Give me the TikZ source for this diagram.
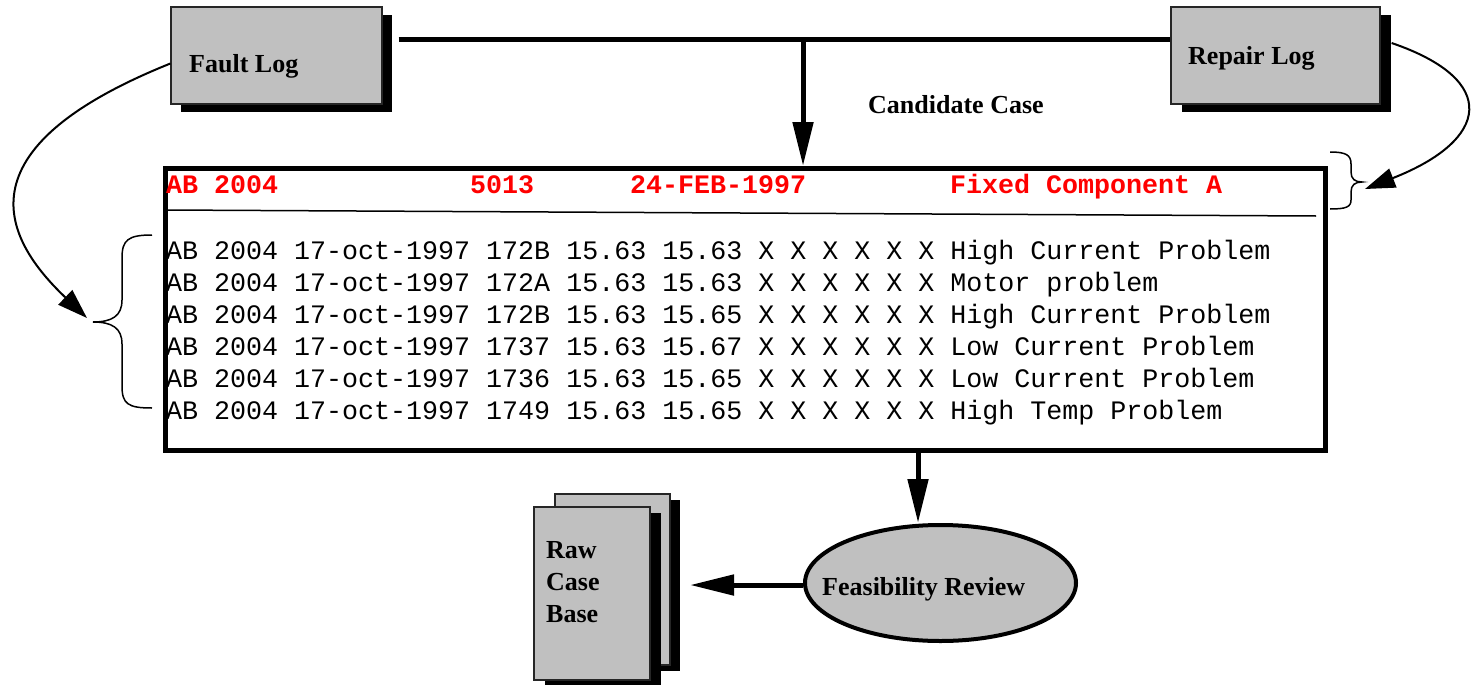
\documentclass[tikz,border=0pt]{standalone}
\usepackage{fontspec}
\setmainfont{Liberation Serif}
\setmonofont{Liberation Mono}
\usetikzlibrary{arrows.meta,shadows,shapes.geometric}
\definecolor{boxgray}{HTML}{C0C0C0}
\begin{document}
\begin{tikzpicture}[x=1pt,y=-1pt,
  lbl/.style={font=\fontsize{26}{32}\selectfont\bfseries, anchor=base west, inner sep=0pt, align=left},
  mono/.style={font=\fontsize{26.67}{32}\selectfont\ttfamily, anchor=base west, inner sep=0pt},
  monohead/.style={mono, font=\fontsize{26.67}{32}\selectfont\ttfamily\bfseries, text=red},
  graybox/.style={draw=black!85, line width=1.2pt, fill=boxgray, inner sep=0pt},
  thickline/.style={line width=5pt},
  thickarrow/.style={line width=5pt, -{Triangle[length=44pt,width=20pt]}},
  curvearrow/.style={line width=2pt, -{Triangle[length=30pt,width=20pt]}},
  bracepath/.style={line width=1.5pt}
]
\useasboundingbox (0,0) rectangle (1472,685);

% log boxes
\node[graybox, minimum width=211pt, minimum height=97pt,
  drop shadow={shadow xshift=10pt, shadow yshift=-8pt, fill=black, opacity=1}] (fault) at (276.5,55.5) {};
\node[lbl] (faulttxt) at (189,73) {Fault Log};
\node[graybox, minimum width=209pt, minimum height=97pt,
  drop shadow={shadow xshift=11pt, shadow yshift=-8pt, fill=black, opacity=1}] (repair) at (1275.5,55.5) {};
\node[lbl] (repairtxt) at (1188,65) {Repair Log};

% main case box
\node[draw, line width=5pt, minimum width=1160pt, minimum height=282pt, inner sep=0pt] (case) at (745.5,309.5) {};
\draw[line width=1.5pt] (165,210) -- (1316,216);

% header
\node[monohead] (h1) at (166,193) {AB 2004};
\node[monohead] (h2) at (470,193) {5013};
\node[monohead] (h3) at (630,193) {24-FEB-1997};
\node[monohead] (h4) at (950,193) {Fixed Component A};

% rows
\node[mono] (r1) at (166,259) {AB 2004 17-oct-1997 172B 15.63 15.63 X X X X X X High Current Problem};
\node[mono] (r2) at (166,291) {AB 2004 17-oct-1997 172A 15.63 15.63 X X X X X X Motor problem};
\node[mono] (r3) at (166,323) {AB 2004 17-oct-1997 172B 15.63 15.65 X X X X X X High Current Problem};
\node[mono] (r4) at (166,355) {AB 2004 17-oct-1997 1737 15.63 15.67 X X X X X X Low Current Problem};
\node[mono] (r5) at (166,387) {AB 2004 17-oct-1997 1736 15.63 15.65 X X X X X X Low Current Problem};
\node[mono] (r6) at (166,419) {AB 2004 17-oct-1997 1749 15.63 15.65 X X X X X X High Temp Problem};

% candidate case connector
\coordinate (j) at (803,40);
\draw[thickline] ([xshift=16pt]fault.east |- j) -- (repair.west |- j);
\draw[thickarrow] (j) -- (j |- case.north);
\node[lbl] (cand) at (868,113) {Candidate Case};

% braces
\coordinate (lbtip) at (93,322);
\draw[bracepath] (152,235) .. controls (128,235) and (122,240) .. (122,258) -- (122,300)
  .. controls (122,316) and (112,322) .. (lbtip)
  .. controls (112,322) and (122,328) .. (122,344) -- (122,386)
  .. controls (122,404) and (128,408) .. (152,408);
\coordinate (rbtip) at (1362,182);
\draw[bracepath] (1330,152) .. controls (1346,152) and (1351,155) .. (1351,164) -- (1351,172)
  .. controls (1351,179) and (1355,182) .. (rbtip)
  .. controls (1355,182) and (1351,185) .. (1351,192) -- (1351,200)
  .. controls (1351,207) and (1346,209) .. (1330,209);

% curved arrows
\coordinate (lbarr) at (87,318);
\draw[curvearrow] ([yshift=-8pt]fault.west) .. controls (-45,150) and (5,240) .. (lbarr);
\coordinate (rbarr) at (1365,189);
\draw[curvearrow] ([xshift=11pt,yshift=12.5pt]repair.east) .. controls (1500,80) and (1490,140) .. (rbarr);

% feasibility review
\node[ellipse, draw, line width=4pt, fill=boxgray, minimum width=271pt, minimum height=116pt, inner sep=0pt] (fr) at (940.5,583) {};
\node[lbl] (frtxt) at (822,595) {Feasibility Review};
\coordinate (d) at (918,453);
\draw[thickarrow] (d) -- (d |- fr.north);

% raw case base pages
\node[graybox, minimum width=115pt, minimum height=171pt,
  drop shadow={shadow xshift=10pt, shadow yshift=-6pt, fill=black, opacity=1}] (page2) at (612.5,579.5) {};
\node[graybox, minimum width=116pt, minimum height=173pt,
  drop shadow={shadow xshift=11pt, shadow yshift=-6pt, fill=black, opacity=1}] (page1) at (592,593.5) {};
\node[lbl] (rcb) at (546,622) {Raw\\Case\\Base};

\coordinate (rcin) at (690,585);
\draw[thickarrow] (fr.west |- rcin) -- (rcin);
\end{tikzpicture}
\end{document}
